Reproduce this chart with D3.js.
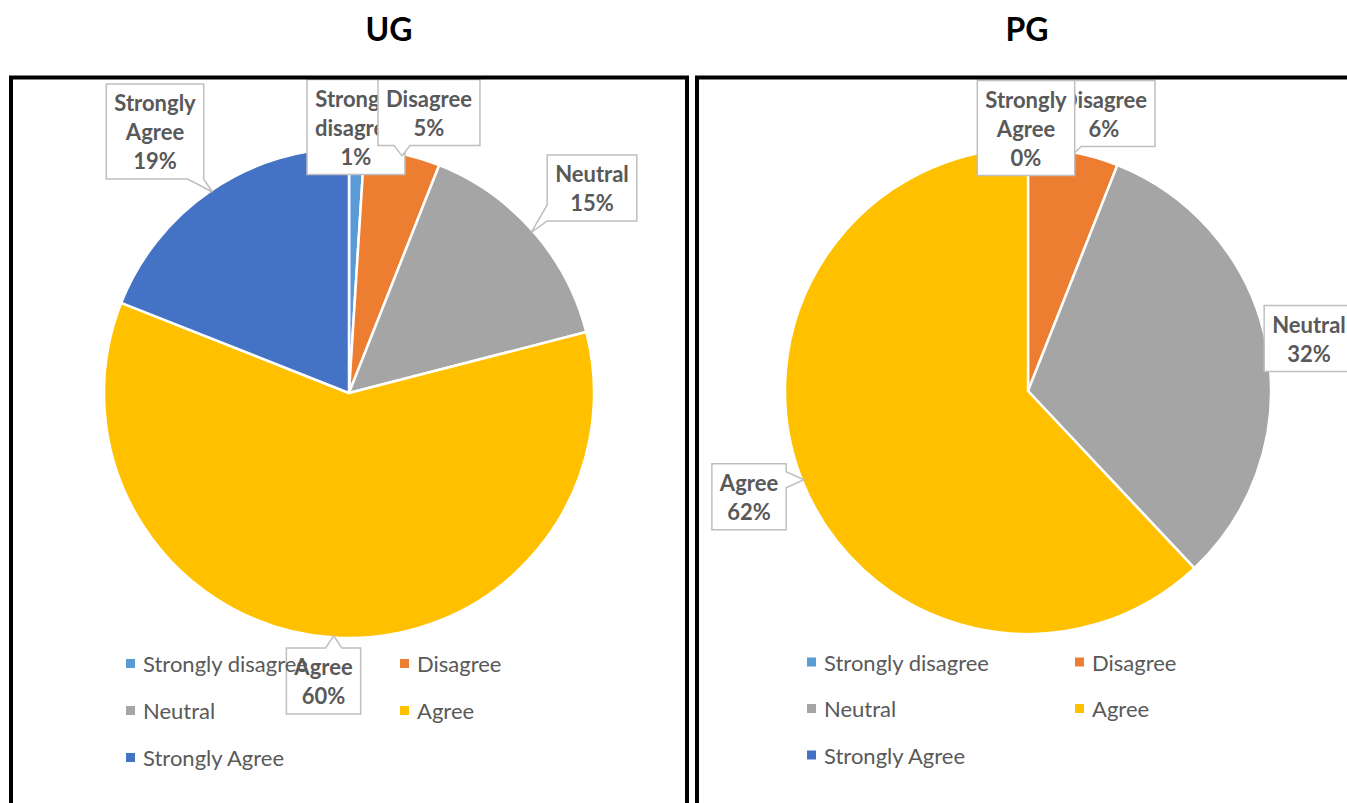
<!DOCTYPE html>
<html>
<head>
<meta charset="utf-8">
<script src="https://cdn.jsdelivr.net/npm/d3@7"></script>
<style>
  html, body { margin: 0; padding: 0; background: #fff; }
  svg { display: block; }
</style>
</head>
<body>
<svg id="chart" width="1347" height="803"></svg>
<script>
// Response categories, shared by both pies
const categories = ["Strongly disagree", "Disagree", "Neutral", "Agree", "Strongly Agree"];
// Share of responses (%) for each group
const ugValues = [1, 5, 15, 60, 19];
const pgValues = [0, 6, 32, 62, 0];
const groupTitles = ["UG", "PG"];
const sliceColors = ["#5B9BD5", "#ED7D31", "#A5A5A5", "#FFC000", "#4472C4"];

// Panel geometry: pie centre/radius, frame, legend origin, and callout offsets
const panels = [
  {
    title: groupTitles[0], values: ugValues,
    cx: 349, cy: 393, r: 245, titleX: 389,
    frameX: 11, frameW: 676,
    legendX: 126, legendY: 663.5, legendCol: 274, legendRow: 47,
    callouts: [
      { dx: 7, dy: -266 },
      { dx: 80, dy: -280.5 },
      { dx: 243, dy: -205, side: "left" },
      { dx: -25.5, dy: 288 },
      { dx: -194, dy: -261.5 }
    ]
  },
  {
    title: groupTitles[1], values: pgValues,
    cx: 1028, cy: 391, r: 243, titleX: 1027,
    frameX: 697, frameW: 700,
    legendX: 807, legendY: 662, legendCol: 268, legendRow: 46.5,
    callouts: [
      null,
      { dx: 76, dy: -277.5 },
      { dx: 281, dy: -52.5 },
      { dx: -279, dy: 105.7 },
      { dx: -2, dy: -263 }
    ]
  }
];

const svg = d3.select("#chart");
const color = d3.scaleOrdinal().domain(categories).range(sliceColors);
const pie = d3.pie().sort(null).value(d => d.value);

const LABEL_FONT = "Lato, 'Open Sans', sans-serif";
const lineH = 29, padX = 8, padY = 4, wedgeHalf = 8;

// Rectangle with a pointed wedge towards (tx, ty)
function calloutPath(x0, y0, x1, y1, tx, ty, forcedSide) {
  const inside = tx >= x0 && tx <= x1 && ty >= y0 && ty <= y1;
  if (inside) return `M${x0},${y0}H${x1}V${y1}H${x0}Z`;
  const cx = (x0 + x1) / 2, cy = (y0 + y1) / 2;
  const nx = (tx - cx) / ((x1 - x0) / 2), ny = (ty - cy) / ((y1 - y0) / 2);
  let side = forcedSide;
  if (!side) {
    if (Math.abs(nx) > Math.abs(ny)) side = nx > 0 ? "right" : "left";
    else side = ny > 0 ? "bottom" : "top";
  }
  const clamp = (v, a, b) => Math.max(a + wedgeHalf, Math.min(b - wedgeHalf, v));
  if (side === "top") {
    const m = clamp(tx, x0, x1);
    return `M${x0},${y0}H${m - wedgeHalf}L${tx},${ty}L${m + wedgeHalf},${y0}H${x1}V${y1}H${x0}Z`;
  }
  if (side === "right") {
    const m = clamp(ty, y0, y1);
    return `M${x0},${y0}H${x1}V${m - wedgeHalf}L${tx},${ty}L${x1},${m + wedgeHalf}V${y1}H${x0}Z`;
  }
  if (side === "bottom") {
    const m = clamp(tx, x0, x1);
    return `M${x0},${y0}H${x1}V${y1}H${m + wedgeHalf}L${tx},${ty}L${m - wedgeHalf},${y1}H${x0}Z`;
  }
  const m = clamp(ty, y0, y1);
  return `M${x0},${y0}H${x1}V${y1}H${x0}V${m + wedgeHalf}L${tx},${ty}L${x0},${m - wedgeHalf}Z`;
}

panels.forEach(p => {
  const data = categories.map((c, i) => ({ category: c, value: p.values[i], idx: i }));
  const arcs = pie(data);
  const arc = d3.arc().innerRadius(0).outerRadius(p.r);

  // Title
  svg.append("text")
    .attr("x", p.titleX).attr("y", 41)
    .attr("text-anchor", "middle")
    .attr("font-family", LABEL_FONT)
    .attr("font-weight", 700)
    .attr("font-size", 32)
    .attr("fill", "#000")
    .text(p.title);

  const g = svg.append("g").attr("transform", `translate(${p.cx},${p.cy})`);

  // Slices
  g.selectAll("path.slice")
    .data(arcs.filter(a => a.data.value > 0))
    .join("path")
    .attr("class", "slice")
    .attr("d", arc)
    .attr("fill", d => color(d.data.category))
    .attr("stroke", "#fff")
    .attr("stroke-width", 2.5)
    .attr("stroke-linejoin", "round");

  // Legend: two columns, filled row by row
  const leg = svg.append("g");
  categories.forEach((c, i) => {
    const col = i % 2, row = Math.floor(i / 2);
    const x = p.legendX + col * p.legendCol;
    const y = p.legendY + row * p.legendRow;
    leg.append("rect")
      .attr("x", x).attr("y", y - 4.5)
      .attr("width", 9).attr("height", 9)
      .attr("fill", color(c));
    leg.append("text")
      .attr("x", x + 17).attr("y", y)
      .attr("dominant-baseline", "central")
      .attr("font-family", LABEL_FONT)
      .attr("font-size", 22)
      .attr("fill", "#595959")
      .text(c);
  });

  // Data callouts
  arcs.forEach((a, i) => {
    const lay = p.callouts[i];
    if (!lay) return;
    const lines = a.data.category.split(" ").concat([a.data.value + "%"]);
    const bx = lay.dx, by = lay.dy;
    const lg = g.append("g");
    const path = lg.append("path");
    const texts = lines.map((t, k) => lg.append("text")
      .attr("x", bx)
      .attr("y", by + (k - (lines.length - 1) / 2) * lineH)
      .attr("text-anchor", "middle")
      .attr("dominant-baseline", "central")
      .attr("font-family", LABEL_FONT)
      .attr("font-weight", 700)
      .attr("font-size", 22)
      .attr("fill", "#595959")
      .text(t));
    const w = d3.max(texts, t => t.node().getComputedTextLength()) + 2 * padX;
    const h = lines.length * lineH + 2 * padY;
    const mid = (a.startAngle + a.endAngle) / 2;
    const tr = p.r - 2;
    const tx = tr * Math.sin(mid), ty = -tr * Math.cos(mid);
    path.attr("d", calloutPath(bx - w / 2, by - h / 2, bx + w / 2, by + h / 2, tx, ty, lay.side))
      .attr("fill", "#fff")
      .attr("stroke", "#BFBFBF")
      .attr("stroke-width", 1.5);
  });
});

// Panel frames, drawn last so they sit over the callout tops
panels.forEach(p => {
  svg.append("rect")
    .attr("x", p.frameX).attr("y", 77.5)
    .attr("width", p.frameW).attr("height", 800)
    .attr("fill", "none")
    .attr("stroke", "#000")
    .attr("stroke-width", 4);
});
</script>
</body>
</html>
